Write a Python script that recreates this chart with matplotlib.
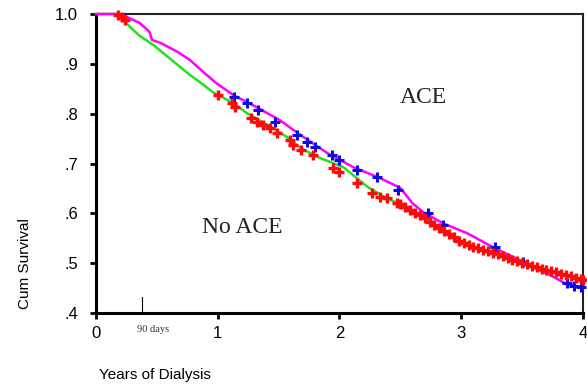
import matplotlib
matplotlib.use("Agg")
import matplotlib.pyplot as plt

# No ACE survival curve (years, cumulative survival)
noace_t = [0.0, 0.18, 0.28, 0.36, 0.47, 0.57, 0.69, 0.77, 0.855, 0.96, 1.13, 1.24, 1.41, 1.57,
           1.68, 1.84, 2.03, 2.23, 2.39, 2.50, 2.66, 2.83, 2.99, 3.16, 3.32, 3.48, 3.65, 3.81, 4.0]
noace_s = [1.0, 1.0, 0.974, 0.956, 0.938, 0.918, 0.894, 0.878, 0.863, 0.843, 0.821, 0.801, 0.777, 0.753,
           0.731, 0.711, 0.693, 0.653, 0.630, 0.618, 0.596, 0.570, 0.544, 0.528, 0.516, 0.502, 0.490,
           0.480, 0.466]

# ACE survival curve
ace_t = [0.0, 0.18, 0.22, 0.36, 0.44, 0.46, 0.53, 0.67, 0.77, 0.88, 0.99, 1.13, 1.32, 1.51, 1.68,
         1.90, 2.11, 2.33, 2.50, 2.60, 2.69, 2.85, 3.05, 3.26, 3.48, 3.57, 3.73, 3.85, 4.0]
ace_s = [1.0, 1.0, 0.998, 0.982, 0.964, 0.948, 0.942, 0.924, 0.908, 0.884, 0.861, 0.837, 0.813, 0.787, 0.757,
         0.721, 0.693, 0.671, 0.651, 0.620, 0.602, 0.580, 0.560, 0.532, 0.506, 0.494, 0.476, 0.460, 0.450]

# Censored observations, No ACE
noace_cens_t = [0.18, 0.21, 0.24,
                1.00, 1.12, 1.14, 1.27, 1.32, 1.37, 1.43, 1.49, 1.59, 1.62, 1.68, 1.78, 1.95, 2.00,
                2.14, 2.27, 2.33, 2.39, 2.47,
                2.50, 2.54, 2.58, 2.62, 2.66, 2.70, 2.74, 2.78, 2.82, 2.86, 2.90, 2.94, 2.98, 3.02,
                3.06, 3.10, 3.14, 3.18, 3.22, 3.26, 3.30, 3.34, 3.38, 3.42, 3.46, 3.50, 3.54, 3.58,
                3.62, 3.66, 3.70, 3.74, 3.78, 3.82, 3.86, 3.90, 3.94, 3.98, 4.00]
noace_cens_s = [0.998, 0.994, 0.988,
                0.837, 0.821, 0.813, 0.791, 0.783, 0.777, 0.771, 0.761, 0.747, 0.737, 0.727, 0.717,
                0.691, 0.683, 0.661, 0.641, 0.633, 0.631, 0.620,
                0.618, 0.613, 0.607, 0.601, 0.596, 0.590, 0.583, 0.577, 0.571, 0.565, 0.558, 0.552,
                0.545, 0.541, 0.537, 0.533, 0.530, 0.527, 0.524, 0.521, 0.518, 0.515, 0.511, 0.507,
                0.504, 0.501, 0.498, 0.495, 0.492, 0.489, 0.487, 0.485, 0.482, 0.479, 0.477, 0.474,
                0.471, 0.468, 0.466]

# Censored observations, ACE
ace_cens_t = [1.13, 1.24, 1.33, 1.47, 1.65, 1.73, 1.80, 1.94, 2.00, 2.14, 2.31, 2.48, 2.73, 2.85,
              3.28, 3.51, 3.87, 3.93, 3.98]
ace_cens_s = [0.833, 0.821, 0.807, 0.783, 0.757, 0.743, 0.733, 0.717, 0.707, 0.687, 0.673, 0.647,
              0.600, 0.576, 0.532, 0.502, 0.460, 0.455, 0.452]

xticks = [0, 1, 2, 3, 4]
xticklabels = ["0", "1", "2", "3", "4"]
yticks = [0.4, 0.5, 0.6, 0.7, 0.8, 0.9, 1.0]
yticklabels = [".4", ".5", ".6", ".7", ".8", ".9", "1.0"]

plt.rcParams['font.family'] = ['Liberation Sans', 'DejaVu Sans']

fig = plt.figure(figsize=(5.87, 3.87), dpi=100)
ax = fig.add_axes([0.1635, 0.1912, 0.8297, 0.7726])

ax.plot(noace_t, noace_s, color='#22e022', lw=1.8, zorder=3, clip_on=False)
ax.plot(ace_t, ace_s, color='#ff00ff', lw=1.8, zorder=4, clip_on=False)
ax.plot(ace_cens_t, ace_cens_s, ls='none', marker='+', ms=7, mew=2.2, color='#0a0ae6', zorder=5, clip_on=False)
ax.plot(noace_cens_t, noace_cens_s, ls='none', marker='+', ms=7, mew=2.4, color='#ff0a0a', zorder=6, clip_on=False)

ax.set_xlim(0, 4)
ax.set_ylim(0.4, 1.0)
ax.set_xticks(xticks)
ax.set_xticklabels(xticklabels, fontsize=12)
ax.set_yticks(yticks)
ax.set_yticklabels(yticklabels, fontsize=12)
ax.tick_params(axis='both', direction='out', length=4, width=2, color='black')
ax.tick_params(axis='x', pad=5)
ax.tick_params(axis='y', pad=9)

for side in ['left', 'bottom']:
    ax.spines[side].set_linewidth(2.2)
for side in ['top', 'right']:
    ax.spines[side].set_linewidth(1.5)
    ax.spines[side].set_color('#222222')

# 90 days marker
ax.plot([0.378, 0.378], [0.4, 0.433], color='black', lw=0.8, clip_on=False)
ax.text(0.47, 0.375, "90 days", ha='center', va='top', fontsize=7.5,
        family='Liberation Serif', color='#333333')

ax.text(2.69, 0.833, "ACE", ha='center', va='center', fontsize=17, family='Liberation Serif', color='#222222')
ax.text(1.2, 0.572, "No ACE", ha='center', va='center', fontsize=17, family='Liberation Serif', color='#222222')

fig.text(0.043, 0.318, "Cum Survival", rotation=90, ha='center', va='center', fontsize=11)
fig.text(0.264, 0.031, "Years of Dialysis", ha='center', va='center', fontsize=11)

fig.savefig("out.png", dpi=100)
